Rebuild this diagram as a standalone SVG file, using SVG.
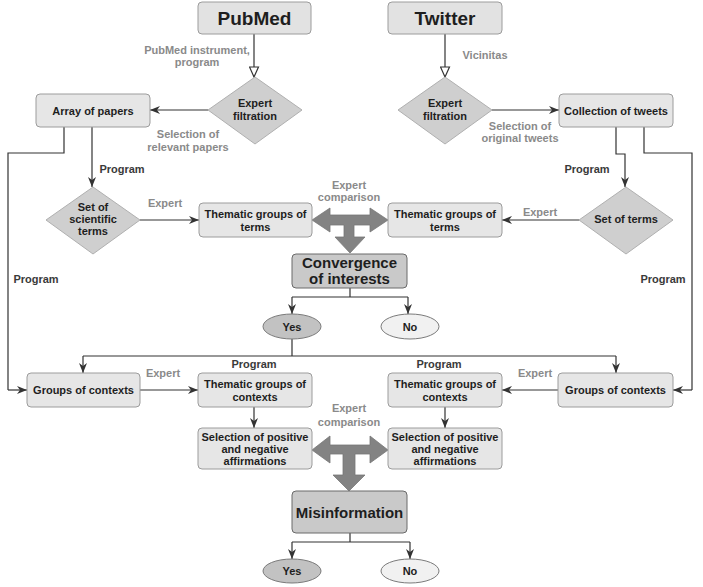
<svg xmlns="http://www.w3.org/2000/svg" width="703" height="587" viewBox="0 0 703 587">
<style>
  text { font-family: "Liberation Sans", Arial, sans-serif; font-weight: bold; text-anchor: middle; }
  .n { font-size: 11px; fill: #1e1e1e; }
  .big { font-size: 19px; fill: #1e1e1e; }
  .mid { font-size: 15px; fill: #1e1e1e; }
  .lg { font-size: 11px; fill: #8a8a8a; }
  .lp { font-size: 11px; fill: #3a3a3a; }
  .box { fill: #e6e6e6; stroke: #9c9c9c; stroke-width: 1; }
  .src { fill: #e2e2e2; stroke: #9c9c9c; stroke-width: 1; }
  .dark { fill: #c9c9c9; stroke: #6a6a6a; stroke-width: 1; }
  .dia { fill: #cfcfcf; stroke: #b0b0b0; stroke-width: 1; }
  .ey { fill: #c2c2c2; stroke: #7a7a7a; stroke-width: 1; }
  .en { fill: #f1f1f1; stroke: #7a7a7a; stroke-width: 1; }
  .c { fill: none; stroke: #333; stroke-width: 1.2; }
  .a { marker-end: url(#ah); }
  .h { marker-end: url(#oh); }
  .t { fill: #838383; stroke: #777; stroke-width: 0.8; }
</style>
<defs>
  <marker id="ah" viewBox="0 0 10 8" refX="10" refY="4" markerWidth="10" markerHeight="8" markerUnits="userSpaceOnUse" orient="auto">
    <path d="M0,0 L10,4 L0,8 L3,4 z" fill="#333"/>
  </marker>
  <marker id="oh" viewBox="0 0 12 11" refX="11" refY="5.5" markerWidth="12" markerHeight="11" markerUnits="userSpaceOnUse" orient="auto">
    <path d="M1,1 L11,5.5 L1,10 z" fill="#fff" stroke="#333" stroke-width="1.2"/>
  </marker>
</defs>
<rect width="703" height="587" fill="#fff"/>

<g id="connectors">
  <path class="c h" d="M254,34 V77"/>
  <path class="c h" d="M445,34 V77"/>
  <path class="c a" d="M208,110 H150"/>
  <path class="c a" d="M492,110 H559"/>
  <path class="c" d="M64,127 V153 H8 V390"/>
  <path class="c a" d="M8,390 H27"/>
  <path class="c a" d="M92,127 V187"/>
  <path class="c a" d="M616,127 V154 H625 V187"/>
  <path class="c" d="M644,127 V153 H692 V390"/>
  <path class="c a" d="M692,390 H673"/>
  <path class="c a" d="M140,220 H199"/>
  <path class="c a" d="M579,220 H502"/>
  <path class="c" d="M350,288 V297 M292,297 H408"/>
  <path class="c a" d="M292,297 V314"/>
  <path class="c a" d="M408,297 V314"/>
  <path class="c" d="M292,339 V356 M83,356 H616"/>
  <path class="c a" d="M83,356 V373"/>
  <path class="c a" d="M616,356 V373"/>
  <path class="c a" d="M140,390 H198"/>
  <path class="c a" d="M558,390 H502"/>
  <path class="c a" d="M254,407 V428"/>
  <path class="c a" d="M445,407 V428"/>
  <path class="c" d="M350,533 V542 M292,542 H410"/>
  <path class="c a" d="M292,542 V559"/>
  <path class="c a" d="M410,542 V559"/>
  <polygon class="t" points="312,220 330,208 330,215 370,215 370,208 388,220 370,232 370,225 354,225 354,237 365,237 350,253 335,237 344,237 344,225 330,225 330,232"/>
  <polygon class="t" points="312,450 330,436 330,445 370,445 370,436 388,450 370,463 370,454 355,454 355,475 365,475 349,491 333,475 343,475 343,454 330,454 330,463"/>
  <text class="lg" x="197" y="54">PubMed instrument,</text>
  <text class="lg" x="197" y="66">program</text>
  <text class="lg" x="485" y="59">Vicinitas</text>
  <text class="lg" x="188" y="138">Selection of</text>
  <text class="lg" x="188" y="151">relevant papers</text>
  <text class="lg" x="520" y="130">Selection of</text>
  <text class="lg" x="520" y="142">original tweets</text>
  <text class="lp" x="122" y="173">Program</text>
  <text class="lp" x="587" y="173">Program</text>
  <text class="lp" x="36" y="283">Program</text>
  <text class="lp" x="663" y="283">Program</text>
  <text class="lg" x="165" y="207">Expert</text>
  <text class="lg" x="540" y="216">Expert</text>
  <text class="lg" x="349" y="189">Expert</text>
  <text class="lg" x="349" y="201">comparison</text>
  <text class="lg" x="163" y="377">Expert</text>
  <text class="lg" x="535" y="377">Expert</text>
  <text class="lp" x="254" y="368">Program</text>
  <text class="lp" x="439" y="368">Program</text>
  <text class="lg" x="349" y="412">Expert</text>
  <text class="lg" x="349" y="426">comparison</text>
</g>

<g id="pubmed"><rect class="src" x="198" y="2" width="113" height="32" rx="4"/><text class="big" x="254.5" y="25">PubMed</text></g>
<g id="twitter"><rect class="src" x="388" y="2" width="114" height="32" rx="4"/><text class="big" x="445" y="25">Twitter</text></g>
<g id="filtration-left"><polygon class="dia" points="255,77 302,110 255,144 208,110"/><text class="n" x="255" y="107">Expert</text><text class="n" x="255" y="120">filtration</text></g>
<g id="filtration-right"><polygon class="dia" points="445,77 492,110 445,144 398,110"/><text class="n" x="445" y="107">Expert</text><text class="n" x="445" y="120">filtration</text></g>
<g id="array-papers"><rect class="box" x="36" y="94" width="114" height="33" rx="4"/><text class="n" x="93" y="115">Array of papers</text></g>
<g id="collection-tweets"><rect class="box" x="559" y="94" width="114" height="33" rx="4"/><text class="n" x="616" y="115">Collection of tweets</text></g>
<g id="set-scientific"><polygon class="dia" points="93,187 140,220 93,254 46,220"/><text class="n" x="93" y="211">Set of</text><text class="n" x="93" y="223">scientific</text><text class="n" x="93" y="235">terms</text></g>
<g id="set-terms"><polygon class="dia" points="626,187 673,220 626,254 579,220"/><text class="n" x="626" y="223">Set of  terms</text></g>
<g id="thematic-terms-left"><rect class="box" x="199" y="203" width="113" height="34" rx="4"/><text class="n" x="255.5" y="218">Thematic groups of</text><text class="n" x="255.5" y="231">terms</text></g>
<g id="thematic-terms-right"><rect class="box" x="388" y="203" width="114" height="34" rx="4"/><text class="n" x="445" y="218">Thematic groups of</text><text class="n" x="445" y="231">terms</text></g>
<g id="convergence"><rect class="dark" x="292" y="254" width="115" height="34" rx="4"/><text class="mid" x="349.5" y="268">Convergence</text><text class="mid" x="349.5" y="284">of interests</text></g>
<g id="yes1"><ellipse class="ey" cx="292" cy="326.5" rx="29" ry="12.5"/><text class="n" x="292" y="330.5">Yes</text></g>
<g id="no1"><ellipse class="en" cx="410" cy="326.5" rx="29" ry="12.5"/><text class="n" x="410" y="330.5">No</text></g>
<g id="groups-contexts-left"><rect class="box" x="27" y="373" width="113" height="34" rx="4"/><text class="n" x="83.5" y="394">Groups of contexts</text></g>
<g id="groups-contexts-right"><rect class="box" x="558" y="373" width="115" height="34" rx="4"/><text class="n" x="615.5" y="394">Groups of contexts</text></g>
<g id="thematic-contexts-left"><rect class="box" x="198" y="373" width="114" height="34" rx="4"/><text class="n" x="255" y="388">Thematic groups of</text><text class="n" x="255" y="401">contexts</text></g>
<g id="thematic-contexts-right"><rect class="box" x="388" y="373" width="114" height="34" rx="4"/><text class="n" x="445" y="388">Thematic groups of</text><text class="n" x="445" y="401">contexts</text></g>
<g id="selection-left"><rect class="box" x="198" y="428" width="114" height="41" rx="4"/><text class="n" x="255" y="441">Selection of positive</text><text class="n" x="255" y="453">and negative</text><text class="n" x="255" y="465">affirmations</text></g>
<g id="selection-right"><rect class="box" x="388" y="428" width="114" height="41" rx="4"/><text class="n" x="445" y="441">Selection of positive</text><text class="n" x="445" y="453">and negative</text><text class="n" x="445" y="465">affirmations</text></g>
<g id="misinformation"><rect class="dark" x="292" y="491" width="115" height="42" rx="4"/><text class="mid" x="349.5" y="518">Misinformation</text></g>
<g id="yes2"><ellipse class="ey" cx="292" cy="571" rx="29" ry="12"/><text class="n" x="292" y="575">Yes</text></g>
<g id="no2"><ellipse class="en" cx="410" cy="571" rx="29" ry="12"/><text class="n" x="410" y="575">No</text></g>
</svg>
